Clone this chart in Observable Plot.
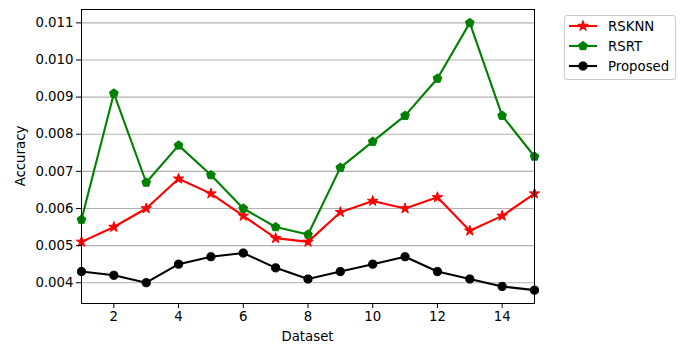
<!DOCTYPE html>
<html><head><meta charset="utf-8">
<script src="https://cdn.jsdelivr.net/npm/d3@7"></script>
<script src="https://cdn.jsdelivr.net/npm/@observablehq/plot@0.6"></script>
<style>body{margin:0;background:#fff}</style>
</head><body><div id="chart"></div>
<script>
const datasets = [1,2,3,4,5,6,7,8,9,10,11,12,13,14,15];
const rsknn = [0.0051,0.0055,0.0060,0.0068,0.0064,0.0058,0.0052,0.0051,0.0059,0.0062,0.0060,0.0063,0.0054,0.0058,0.0064];
const rsrt = [0.0057,0.0091,0.0067,0.0077,0.0069,0.0060,0.0055,0.0053,0.0071,0.0078,0.0085,0.0095,0.0110,0.0085,0.0074];
const proposed = [0.0043,0.0042,0.0040,0.0045,0.0047,0.0048,0.0044,0.0041,0.0043,0.0045,0.0047,0.0043,0.0041,0.0039,0.0038];
const seriesNames = ["RSKNN","RSRT","Proposed"];
const seriesColors = ["#ff0000","#008000","#000000"];
const xTicks = [2,4,6,8,10,12,14];
const yTicks = [0.004,0.005,0.006,0.007,0.008,0.009,0.010,0.011];

const pentagon = {draw(ctx, size){
  const R = Math.sqrt(size/2.3776);
  for(let i=0;i<5;i++){const a=-Math.PI/2+i*2*Math.PI/5; const x=R*Math.cos(a), y=R*Math.sin(a); i?ctx.lineTo(x,y):ctx.moveTo(x,y);}
  ctx.closePath();
}};
const symbols = [d3.symbolStar, pentagon, d3.symbolCircle];
const radii = [3.3, 4.0, 4.1];

const rows = [];
[rsknn, rsrt, proposed].forEach((vals, si) => vals.forEach((v, i) => rows.push({series: seriesNames[si], x: datasets[i], y: v, si})));

const font = "DejaVu Sans, sans-serif";
const marks = [
  Plot.gridY(yTicks, {stroke:"#b0b0b0", strokeOpacity:1, strokeWidth:1.1}),
];
seriesNames.forEach((name, si) => {
  const d = rows.filter(r => r.si === si);
  marks.push(Plot.line(d, {x:"x", y:"y", stroke: seriesColors[si], strokeWidth: 2.1}));
  marks.push(Plot.dot(d, {x:"x", y:"y", fill: seriesColors[si], stroke: seriesColors[si], strokeWidth:1, symbol: () => symbols[si], r: radii[si]}));
});
marks.push(Plot.frame({stroke:"#000", strokeWidth:1}));
marks.push(Plot.axisX(xTicks, {tickSize:5, tickPadding:3, fontSize:13.3, label:null, tickFormat: d=>String(d)}));
marks.push(Plot.axisY(yTicks, {tickSize:5, tickPadding:3, fontSize:13.3, label:null, tickFormat: d3.format(".3f")}));

const chart = Plot.plot({
  width: 684, height: 345,
  marginLeft: 81, marginRight: 150, marginTop: 9, marginBottom: 42,
  style: {fontFamily: font, fontSize: "13.3px", color:"#000", background:"#fff"},
  x: {domain:[1,15]},
  y: {domain:[0.00344,0.01136]},
  marks
});
const svg = d3.select(chart);
svg.append("text").attr("x", 307.5).attr("y", 341).attr("text-anchor","middle").attr("font-size","13.3px").attr("font-family",font).attr("fill","#000").text("Dataset");
svg.append("text").attr("transform","translate(25,156) rotate(-90)").attr("text-anchor","middle").attr("font-size","13.3px").attr("font-family",font).attr("fill","#000").text("Accuracy");

const lg = svg.append("g");
lg.append("rect").attr("x",564.5).attr("y",15.5).attr("width",111).attr("height",64).attr("rx",2.5).attr("fill","#fff").attr("fill-opacity",0.8).attr("stroke","#ccc");
seriesNames.forEach((name, si) => {
  const y = 26 + si*20;
  lg.append("line").attr("x1",569).attr("x2",597).attr("y1",y).attr("y2",y).attr("stroke",seriesColors[si]).attr("stroke-width",2.1);
  lg.append("path").attr("transform",`translate(583,${y})`).attr("d", d3.symbol(symbols[si], Math.PI*radii[si]*radii[si])()).attr("fill",seriesColors[si]).attr("stroke",seriesColors[si]);
  lg.append("text").attr("x",608).attr("y",y).attr("dy","0.35em").attr("text-anchor","start").attr("font-size","13.3px").attr("font-family",font).attr("fill","#000").text(name);
});
document.getElementById("chart").appendChild(chart);
</script></body></html>
